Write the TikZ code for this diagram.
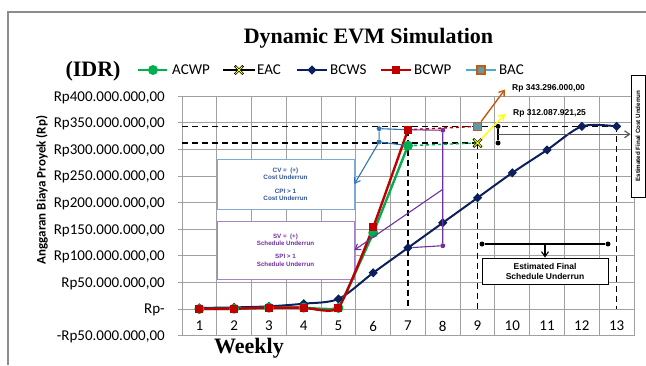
\documentclass[tikz,border=0pt]{standalone}
\usepackage{fontspec}
\setmainfont{Liberation Serif}
\newfontfamily\carlito{Carlito}
\newfontfamily\arialf{Liberation Sans}
\usetikzlibrary{arrows.meta, shapes.misc}

\definecolor{gridgray}{HTML}{A0A0A0}
\definecolor{framegray}{HTML}{8C8C8C}
\definecolor{acwpgreen}{HTML}{00B050}
\definecolor{bcwpred}{HTML}{C00000}
\definecolor{bcwsnavy}{HTML}{0B1F5C}
\definecolor{eacyellow}{HTML}{FFFF00}
\definecolor{bacteal}{HTML}{4BACC6}
\definecolor{bacorange}{HTML}{C55A11}
\definecolor{cvblue}{HTML}{2E75B6}
\definecolor{cvborder}{HTML}{7FAAD6}
\definecolor{cvtext}{HTML}{2F5597}
\definecolor{svpurple}{HTML}{7030A0}
\definecolor{svborder}{HTML}{A585C8}

\begin{document}
\begin{tikzpicture}[x=1pt, y=-1pt,
    >={Straight Barb[length=5pt,width=7pt]},
    every node/.append style={inner sep=0pt},
    chart/.style={shift={(164.6,309)}, x=34.77pt, y=0.532pt},
    gridline/.style={draw=gridgray, line width=0.9pt},
    numfont/.style={font=\carlito\fontsize{15}{18}\selectfont},
    headfont/.style={font=\bfseries\fontsize{22}{26}\selectfont},
    acwp/.style={draw=acwpgreen, line width=2.4pt},
    bcwp/.style={draw=bcwpred, line width=2.4pt},
    bcws/.style={draw=bcwsnavy, line width=2pt},
    refdash/.style={draw=black, line width=1.6pt, dash pattern=on 6pt off 4pt},
    acwpmark/.style={circle, fill=acwpgreen, minimum size=10pt},
    bcwpmark/.style={rectangle, fill=bcwpred, minimum size=8pt},
    bcwsmark/.style={rectangle, fill=bcwsnavy, minimum size=6.5pt, rotate=45},
    eacmark/.style={cross out, draw=black, line width=2.3pt, minimum size=6pt},
    eacin/.style={cross out, draw=eacyellow, line width=1pt, minimum size=6pt},
    bacmark/.style={rectangle, draw=bacorange, fill=bacteal!55!gray, line width=1.5pt, minimum size=8pt},
    dot/.style={circle, fill, minimum size=5pt},
    cvline/.style={draw=cvblue, line width=1.1pt},
    svline/.style={draw=svpurple, line width=1.1pt},
    notebox/.style={draw, fill=white, line width=0.9pt, align=center},
    valfont/.style={font=\arialf\bfseries\fontsize{8.5}{10}\selectfont}
  ]
  \useasboundingbox (0,0) rectangle (646,365);
  \draw[framegray, line width=1.4pt] (8,365) -- (8,12) -- (646,12);

  % headings and legend
  \node[headfont, anchor=base] (title) at (368.5,43) {Dynamic EVM Simulation};
  \node[headfont, anchor=base] (idr) at (93,76) {(IDR)};
  \node[headfont, anchor=base] (weekly) at (249,353) {Weekly};
  \node[rotate=90, font=\carlito\bfseries\fontsize{13}{15}\selectfont] (ytitle) at (42,190) {Anggaran Biaya Proyek (Rp)};

  \draw[acwp] (138,70) -- (167,70);
  \node[acwpmark] (la) at (153,70) {};
  \node[numfont, anchor=west] (lat) at (172,70) {ACWP};
  \draw[black, line width=2.4pt] (223,70) -- (255,70);
  \node[eacmark] (le) at (239,70) {};
  \node[eacin] (ley) at (239,70) {};
  \node[numfont, anchor=west] (let) at (257,70) {EAC};
  \draw[bcws] (297,70) -- (327,70);
  \node[bcwsmark] (ls) at (312,70) {};
  \node[numfont, anchor=west] (lst) at (330,70) {BCWS};
  \draw[bcwp] (381,70) -- (411,70);
  \node[bcwpmark] (lp) at (396,70) {};
  \node[numfont, anchor=west] (lpt) at (414,70) {BCWP};
  \draw[bacteal, line width=2.4pt] (466,70) -- (496,70);
  \node[bacmark] (lb) at (481,70) {};
  \node[numfont, anchor=west] (lbt) at (499,70) {BAC};

  % grid and axes
  \begin{scope}[chart]
    \foreach \i in {0,...,13}
      \draw[gridline] (\i+0.5,-50) -- (\i+0.5,400);
    \foreach \v in {-50,0,...,400}
      \draw[gridline] (0.5,\v) -- (13.5,\v) (0.5,\v) -- ++(-4pt,0);
    \foreach \v in {50,100,...,400}
      \node[numfont, anchor=base east] (t\v) at ([xshift=-17pt, yshift=-4.8pt]0.5,\v) {Rp\v.000.000,00};
    \node[numfont, anchor=base east] (t0) at ([xshift=-17pt, yshift=-4.8pt]0.5,0) {Rp-};
    \node[numfont, anchor=base east] (tm50) at ([xshift=-17pt, yshift=-4.8pt]0.5,-50) {-Rp50.000.000,00};
    \foreach \i in {1,...,13}
      \node[numfont] (w\i) at (\i,-32) {\i};
  \end{scope}

  % note boxes
  \node[notebox, draw=cvborder, text=cvtext, minimum width=137pt, minimum height=50pt,
    font=\arialf\bfseries\fontsize{6.3}{7}\selectfont] (cvbox) at (285.5,184)
    {CV = \ (+)\\Cost Underrun\\[7.5pt]CPI > 1\\Cost Underrun};
  \node[notebox, draw=svborder, text=svpurple, minimum width=137pt, minimum height=58pt,
    font=\arialf\bfseries\fontsize{6.2}{7.5}\selectfont] (svbox) at (285.5,250)
    {SV = \ (+)\\Schedule Underrun\\[5.5pt]SPI > 1\\Schedule Underrun};

  % series
  \begin{scope}[chart]
    \draw[refdash] (0.5,343.3) -- (13,343.3);
    \draw[refdash] (0.5,312.09) -- (9,312.09);
    \draw[refdash] (7,337) -- (7,0);
    \draw[refdash] (9,312.09) -- (9,0);
    \draw[refdash] (13,343.3) -- (13,0);

    \draw[bcws] plot[smooth] coordinates {(1,2) (2,3) (3,5) (4,10) (5,19) (6,68) (7,115)
      (8,162) (9,209) (10,256) (11,299) (12,343.3) (13,343.3)};
    \draw[acwp] plot[smooth, tension=0.12] coordinates {(1,0) (2,0.5) (3,2.5) (4,2.5) (5,2) (6,143) (7,307)};
    \draw[bcwp] plot[smooth, tension=0.28] coordinates {(1,0) (2,0.5) (3,2.5) (4,2.5) (5,2) (6,154) (7,337)};
    \draw[acwpgreen, line width=1.4pt, dashed] (7,307) -- (9,312.09);
    \draw[bcwpred, line width=1.4pt, dashed] (7,337) -- (9,343.3);

    \foreach \i/\v in {1/2,2/3,3/5,4/10,5/19,6/68,7/115,8/162,9/209,10/256,11/299,12/343.3,13/343.3}
      \node[bcwsmark] (s\i) at (\i,\v) {};
    \foreach \i/\v in {1/0,2/0.5,3/2.5,4/2.5,5/2,6/143,7/307}
      \node[acwpmark] (a\i) at (\i,\v) {};
    \foreach \i/\v in {1/0,2/0.5,3/2.5,4/2.5,5/2,6/154,7/337}
      \node[bcwpmark] (p\i) at (\i,\v) {};
    \node[eacmark] (eac) at (9,312.09) {};
    \node[eacin] (eacy) at (9,312.09) {};
    \node[bacmark] (bac) at (9,343.3) {};

    % cost and schedule brackets
    \node[dot, cvblue] (cvt) at (6.17,339) {};
    \node[dot, cvblue] (cvb) at (6.17,314) {};
    \draw[cvline] (p7) -- (cvt) -- (cvb) -- (a7);
    \node[dot, svpurple] (svt) at (8,336) {};
    \node[dot, svpurple] (svb) at (8,119) {};
    \coordinate (sva) at (8,225);
    \draw[svline] (p7) -- (svt) -- (svb) -- (s7);
    \node[dot] (fct) at (9.59,343.3) {};
    \node[dot] (fcb) at (9.59,312.09) {};
    \coordinate (fcm) at (9.59,328.5);
    \draw[line width=1.1pt] (fct) -- (fcb);
  \end{scope}

  \draw[cvline, ->] (cvb) -- (cvbox.east);
  \draw[svline, ->] (sva) -- (svbox.east);

  % final underrun notes
  \node[notebox, rotate=90, minimum width=122pt, minimum height=14pt,
    font=\arialf\bfseries\fontsize{6.2}{7}\selectfont] (fcbox) at (638,136) {Estimated Final Cost Underrun};
  \draw[black!65, line width=1.2pt, ->] (fcm) -- (fcm -| fcbox.north);

  \node[notebox, minimum width=126pt, minimum height=26pt,
    font=\arialf\bfseries\fontsize{8.5}{10}\selectfont] (ssbox) at (545,271) {Estimated Final\\Schedule Underrun};
  \node[dot] (ssl) at (482,244) {};
  \node[dot] (ssr) at (608,244) {};
  \coordinate (ssm) at (545,244);
  \draw[line width=1.1pt] (ssl) -- (ssr);
  \draw[line width=1.1pt, ->] (ssm) -- (ssm |- ssbox.north);

  % value labels
  \node[valfont, anchor=west] (bacl) at (512,88) {Rp 343.296.000,00};
  \node[valfont, anchor=west] (eacl) at (513,113) {Rp 312.087.921,25};
  \draw[bacorange, line width=1.4pt, ->] (bac) -- ([xshift=-7pt, yshift=-1.5pt]bacl.west);
  \draw[eacyellow, line width=1.4pt, ->] (eac) -- ([xshift=-8pt, yshift=-1pt]eacl.west);
\end{tikzpicture}
\end{document}
